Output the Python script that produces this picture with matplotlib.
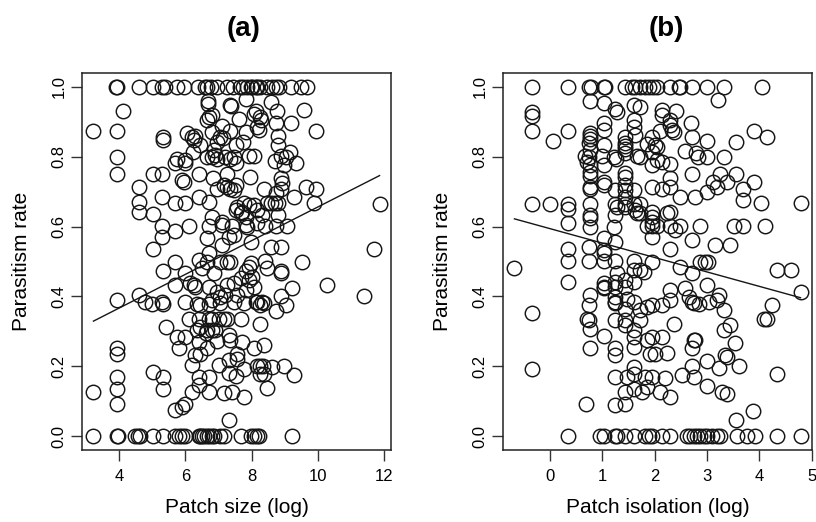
import matplotlib
matplotlib.use("Agg")
import matplotlib.pyplot as plt
from matplotlib import font_manager
import numpy as np

plt.rcParams['font.family'] = ['Liberation Sans', 'DejaVu Sans']

# ---------------- Panel (a): patch size ----------------
size_at_one = [3.91, 3.93, 4.60, 5.02, 5.29, 5.37, 5.75, 5.97, 6.37, 6.58, 6.66, 6.76, 6.96,
               7.26, 7.45, 7.64, 7.75, 7.85, 7.97, 8.02, 8.12, 8.17, 8.27, 8.48, 8.63, 8.73,
               8.83, 9.18, 9.48, 9.67]
size_at_zero = [3.22, 3.93, 3.95, 4.48, 4.56, 4.64, 5.02, 5.32, 5.70, 5.80, 5.90, 6.00, 6.40,
                6.45, 6.51, 6.56, 6.66, 6.71, 6.81, 6.86, 7.06, 7.16, 7.67, 7.97, 8.07, 8.17,
                8.22, 9.23]
size_mid = [
    6.69, 6.69, 7.84, 7.34, 7.38, 4.10, 6.71, 6.66, 6.81, 7.62, 8.07,
    3.22, 3.93, 5.31, 5.31, 6.05, 6.20, 6.30, 6.25, 6.43,
    7.11, 7.36, 6.81, 7.13, 7.06, 6.96, 7.82, 7.75, 7.52, 8.17,
    3.93, 5.75, 5.70, 6.00, 6.00, 6.22,
    6.66, 6.81, 6.91, 6.96, 6.86, 7.21, 7.36, 7.46, 7.52, 8.07, 7.92,
    3.93, 5.02, 5.29, 5.90, 5.95, 6.40,
    6.83, 6.96, 7.16, 7.26, 7.36, 7.46, 7.54, 7.26, 7.94,
    4.61, 5.29, 5.70, 6.00, 6.40, 6.71, 4.61, 4.61, 5.02,
    7.57, 7.52, 7.67, 7.77, 7.92, 8.07, 7.72, 8.17,
    6.81, 7.11, 7.82,
    5.29, 5.70, 6.10, 6.71, 7.11, 7.41, 7.82, 7.87, 8.17,
    5.29, 6.66, 7.31, 7.46, 5.02, 7.11, 7.97,
    8.60, 8.12, 8.27, 8.30, 8.78, 9.59, 8.73, 9.18, 9.94, 8.22,
    8.80, 8.80, 8.70, 8.88, 9.03, 9.16, 9.33, 8.98,
    8.37, 8.88, 8.93, 8.88, 9.64, 9.94, 9.28, 8.73,
    8.48, 8.58, 8.70, 8.80, 9.89, 8.32, 8.80, 11.87,
    8.42, 8.73, 9.08, 8.58, 8.88, 11.71,
    5.70, 5.31, 4.59, 3.93, 4.79, 4.99, 5.29, 5.32, 5.70, 6.00, 6.25, 6.00,
    6.40, 6.71, 6.66, 7.06, 7.36, 7.26, 6.86, 6.51,
    6.15, 6.30, 6.71, 6.96, 7.06, 7.21, 6.81, 7.06, 6.71, 6.35, 6.45,
    7.26, 7.46, 7.67, 7.92, 8.02, 8.07, 7.82, 7.57, 7.46, 7.77, 8.12,
    7.92, 7.82, 7.97,
    6.10, 6.40, 6.71, 6.81, 7.01, 7.16, 7.26, 7.67,
    5.42, 5.75, 6.00, 5.80,
    6.35, 6.45, 6.66, 6.81, 6.91, 6.61,
    6.96, 7.31, 7.36, 7.72,
    6.40, 6.66, 6.45, 6.30, 6.20,
    3.93, 3.93,
    7.57, 7.57, 7.77, 7.01, 7.31, 7.31, 7.52, 8.07, 8.17, 8.27,
    5.02, 5.32, 5.32,
    3.93, 3.93, 3.93, 3.22,
    6.40, 6.71, 6.40, 6.20, 6.71, 7.16, 7.41, 7.77,
    5.70, 5.90, 6.00, 7.31,
    9.53, 8.42, 8.48, 8.88, 8.90, 10.27, 11.40,
    9.23, 8.88, 9.03, 8.73, 8.32, 8.37, 8.27, 8.17,
    8.27, 8.37,
    8.98, 9.28, 8.63, 8.37, 8.25, 8.35, 8.48,
]
rate_mid_a = [
    0.960, 0.950, 0.965, 0.949, 0.946, 0.930, 0.915, 0.906, 0.920, 0.907, 0.923,
    0.875, 0.875, 0.858, 0.848, 0.869, 0.858, 0.860, 0.848, 0.834,
    0.888, 0.875, 0.872, 0.853, 0.858, 0.843, 0.872, 0.843, 0.834, 0.886,
    0.800, 0.793, 0.783, 0.791, 0.781, 0.815,
    0.800, 0.800, 0.805, 0.795, 0.820, 0.798, 0.793, 0.798, 0.781, 0.803, 0.803,
    0.751, 0.751, 0.751, 0.733, 0.729, 0.751,
    0.738, 0.709, 0.719, 0.714, 0.709, 0.705, 0.719, 0.751, 0.741,
    0.714, 0.684, 0.667, 0.667, 0.684, 0.671, 0.671, 0.643, 0.636,
    0.657, 0.647, 0.638, 0.667, 0.662, 0.662, 0.643, 0.647,
    0.628, 0.614, 0.628,
    0.601, 0.588, 0.601, 0.601, 0.604, 0.601, 0.604, 0.600, 0.609,
    0.571, 0.566, 0.571, 0.576, 0.537, 0.547, 0.556,
    0.958, 0.930, 0.915, 0.906, 0.930, 0.934, 0.898, 0.898, 0.875, 0.877,
    0.860, 0.834, 0.789, 0.803, 0.800, 0.815, 0.783, 0.776,
    0.707, 0.738, 0.724, 0.709, 0.714, 0.709, 0.686, 0.695,
    0.668, 0.668, 0.668, 0.668, 0.668, 0.633, 0.633, 0.666,
    0.601, 0.601, 0.601, 0.542, 0.542, 0.537,
    0.499, 0.474, 0.404, 0.390, 0.385, 0.378, 0.385, 0.378, 0.432, 0.466, 0.432, 0.385,
    0.504, 0.523, 0.499, 0.499, 0.499, 0.499, 0.468, 0.480,
    0.437, 0.428, 0.428, 0.413, 0.399, 0.404, 0.390, 0.382, 0.378, 0.378, 0.375,
    0.432, 0.437, 0.452, 0.447, 0.456, 0.428, 0.418, 0.404, 0.385, 0.380, 0.385,
    0.485, 0.474, 0.495,
    0.334, 0.334, 0.334, 0.334, 0.334, 0.334, 0.334, 0.334,
    0.311, 0.284, 0.284, 0.251,
    0.303, 0.313, 0.305, 0.305, 0.303, 0.294,
    0.273, 0.289, 0.275, 0.270,
    0.270, 0.251, 0.236, 0.232, 0.203,
    0.251, 0.236,
    0.236, 0.222, 0.193, 0.203, 0.217, 0.180, 0.171, 0.251, 0.200, 0.179,
    0.184, 0.170, 0.136,
    0.170, 0.134, 0.093, 0.126,
    0.169, 0.169, 0.145, 0.126, 0.126, 0.122, 0.126, 0.112,
    0.074, 0.083, 0.093, 0.045,
    0.499, 0.502, 0.480, 0.474, 0.466, 0.432, 0.401,
    0.423, 0.401, 0.375, 0.359, 0.385, 0.380, 0.375, 0.385,
    0.320, 0.260,
    0.200, 0.174, 0.198, 0.179, 0.200, 0.200, 0.139,
]
fit_a_intercept, fit_a_slope = 0.174, 0.0482

# ---------------- Panel (b): patch isolation ----------------
iso_at_one = [-0.35, 0.332, 0.734, 0.779, 1.022, 1.054, 1.437, 1.565, 1.63, 1.724, 1.82, 1.884,
              1.967, 2.043, 2.299, 2.458, 2.49, 2.714, 3.001, 3.333, 4.055]
iso_at_zero = [0.332, 0.958, 1.022, 1.245, 1.277, 1.437, 1.597, 1.82, 1.884, 1.948, 2.139, 2.299,
               2.618, 2.682, 2.746, 2.81, 2.873, 2.937, 3.001, 3.097, 3.193, 3.257, 3.576,
               3.768, 3.927, 4.342, 4.789]
iso_mid = [
    0.754, 1.035, 1.245, 1.277, -0.35, -0.35, -0.35, 0.332, 0.051,
    0.754, 0.754, 0.754, 0.734, 0.754,
    1.035, 1.035, 1.035, 1.437, 1.437, 1.437,
    1.597, 1.597, 1.63,
    0.67, 0.734, 0.70, 0.754, 0.754, 0.754, 0.767, 0.754,
    0.99, 1.022, 1.035, 1.035, 1.213, 1.264, 1.245,
    1.437, 1.437, 1.437, 1.437, 1.437, 1.437, 1.437, 1.437, 1.437,
    1.66, 1.597, 1.597, 1.63, 1.66,
    1.245, 1.277, 1.245, 1.213, 1.245,
    -0.35, 0.0, 0.332, 0.332, 0.332,
    0.754, 0.754, 0.754, 0.754,
    1.035, 1.022, 0.332, 0.734,
    -0.683, 0.332, 0.332, 0.734, 1.022, 1.035,
    1.245, 1.277, 1.245, 1.245, 1.245, 1.245, 1.245, 1.245,
    1.022, 1.035, 1.035,
    0.754, 0.734, 0.70, 0.734, 0.754, 0.767, 1.035,
    1.437, 1.437, 1.47, 1.437, 1.437, 1.437,
    1.597, 1.597, 1.597, 1.597, 1.597, 1.597, 1.597, 1.597, 1.597, 1.597,
    -0.35, -0.35,
    1.245, 1.245, 1.245, 1.245, 1.437, 1.47, 1.437, 0.69,
    3.206, 1.597, 1.724,
    2.139, 2.139, 2.414, 2.286, 2.299, 2.331, 2.363, 2.695, 3.908, 4.138, 2.107,
    1.852, 1.948, 2.011, 2.043, 1.724, 1.948, 1.948, 2.043, 2.139, 2.299,
    2.586, 2.797, 2.822, 3.001, 3.333, 3.001, 2.714, 3.563,
    2.714, 3.116, 3.257, 3.384, 3.563, 3.908, 3.193, 3.001, 3.691, 3.691, 4.023, 4.789,
    1.948, 2.139, 2.299, 2.286, 2.49, 2.778,
    1.724, 1.724, 1.948, 1.948, 1.948, 2.235, 2.286,
    1.852, 1.948, 2.043, 2.299, 2.395, 2.49, 2.873, 3.512, 3.691, 4.10,
    1.948, 2.714, 2.299, 3.161, 3.448,
    1.948, 1.724, 1.788,
    2.49, 2.714, 3.001, 2.586, 2.65, 2.714, 2.746, 2.842, 3.033, 3.193, 3.225, 3.321,
    2.861, 2.969, 3.014, 4.342, 4.598, 4.789, 4.247, 4.087, 4.151,
    2.286, 2.286, 2.139, 1.852, 1.948, 1.724, 1.724, 2.363,
    3.321, 3.448, 3.544, 2.746, 2.778, 2.714,
    1.852, 1.948, 2.139, 1.916, 2.011, 2.235,
    3.001, 3.353, 3.384, 3.608, 3.225,
    2.714, 2.522, 2.746, 1.82, 1.948, 2.203, 4.342,
    3.001, 3.289, 3.384, 1.852, 2.107, 2.299, 1.756,
    3.883, 3.563,
]
rate_mid_b = [
    0.961, 0.955, 0.936, 0.927, 0.927, 0.917, 0.875, 0.875, 0.846,
    0.869, 0.860, 0.850, 0.839, 0.820,
    0.898, 0.877, 0.834, 0.858, 0.840, 0.831,
    0.905, 0.886, 0.862,
    0.802, 0.798, 0.786, 0.776, 0.757, 0.745, 0.714, 0.709,
    0.802, 0.776, 0.729, 0.719, 0.798, 0.795, 0.705,
    0.821, 0.810, 0.753, 0.743, 0.719, 0.705, 0.686, 0.666, 0.657,
    0.802, 0.705, 0.666, 0.647, 0.638,
    0.666, 0.657, 0.633, 0.600, 0.556,
    0.666, 0.666, 0.666, 0.649, 0.609,
    0.666, 0.633, 0.626, 0.600,
    0.566, 0.533, 0.537, 0.542,
    0.480, 0.502, 0.442, 0.502, 0.523, 0.502,
    0.502, 0.466, 0.442, 0.428, 0.399, 0.385, 0.380, 0.332,
    0.437, 0.428, 0.423,
    0.404, 0.375, 0.334, 0.332, 0.308, 0.251, 0.286,
    0.447, 0.428, 0.394, 0.365, 0.332, 0.318,
    0.502, 0.475, 0.442, 0.385, 0.303, 0.284, 0.255, 0.198, 0.179, 0.136,
    0.353, 0.191,
    0.251, 0.232, 0.169, 0.088, 0.093, 0.169, 0.126, 0.093,
    0.963, 0.949, 0.944,
    0.934, 0.920, 0.930, 0.906, 0.891, 0.877, 0.872, 0.898, 0.875, 0.858, 0.875,
    0.837, 0.858, 0.834, 0.829, 0.800, 0.815, 0.776, 0.791, 0.786, 0.778,
    0.817, 0.810, 0.800, 0.798, 0.798, 0.846, 0.858, 0.843,
    0.751, 0.729, 0.751, 0.729, 0.751, 0.729, 0.712, 0.700, 0.707, 0.676, 0.667, 0.667,
    0.714, 0.709, 0.714, 0.738, 0.686, 0.684,
    0.666, 0.638, 0.643, 0.628, 0.614, 0.638, 0.643,
    0.601, 0.601, 0.601, 0.601, 0.590, 0.601, 0.601, 0.601, 0.601, 0.601,
    0.571, 0.563, 0.537, 0.547, 0.547,
    0.499, 0.475, 0.470,
    0.483, 0.466, 0.432, 0.423, 0.399, 0.385, 0.380, 0.378, 0.385, 0.390, 0.404, 0.361,
    0.499, 0.499, 0.499, 0.475, 0.477, 0.413, 0.375, 0.334, 0.334,
    0.418, 0.391, 0.375, 0.370, 0.375, 0.332, 0.361, 0.322,
    0.303, 0.318, 0.267, 0.276, 0.275, 0.251,
    0.275, 0.284, 0.284, 0.236, 0.236, 0.238,
    0.215, 0.232, 0.225, 0.200, 0.195,
    0.200, 0.174, 0.169, 0.169, 0.169, 0.167, 0.177,
    0.142, 0.126, 0.121, 0.141, 0.126, 0.112, 0.126,
    0.072, 0.045,
]
fit_b_intercept, fit_b_slope = 0.594, -0.0413

rate_ticks = [0.0, 0.2, 0.4, 0.6, 0.8, 1.0]
rate_tick_labels = ["0.0", "0.2", "0.4", "0.6", "0.8", "1.0"]
size_ticks = [4, 6, 8, 10, 12]
iso_ticks = [0, 1, 2, 3, 4, 5]

# condensed bold face for panel letters, if available
installed = {f.name for f in font_manager.fontManager.ttflist}
if 'Liberation Sans Narrow' in installed:
    title_kw = dict(family=['Liberation Sans Narrow', 'Liberation Sans'], fontsize=22)
else:
    title_kw = dict(family=['Liberation Sans', 'DejaVu Sans'], fontsize=20)


def panel(ax, x_one, x_zero, x_mid, y_mid, b0, b1, xticks, xlabel):
    x = np.array(x_one + x_zero + x_mid, dtype=float)
    y = np.array([1.0] * len(x_one) + [0.0] * len(x_zero) + y_mid, dtype=float)
    ax.plot(x, y, linestyle='none', marker='o', markersize=10.4,
            markerfacecolor='none', markeredgecolor='#151515', markeredgewidth=1.05)
    xs = np.array([x.min(), x.max()])
    ax.plot(xs, b0 + b1 * xs, color='#151515', lw=1.0)
    rng = x.max() - x.min()
    ax.set_xlim(x.min() - 0.04 * rng, x.max() + 0.04 * rng)
    ax.set_ylim(-0.04, 1.04)
    ax.set_xticks(xticks)
    ax.set_xticklabels([str(t) for t in xticks])
    ax.set_yticks(rate_ticks)
    ax.set_yticklabels(rate_tick_labels, rotation=90, va='center')
    ax.tick_params(direction='out', length=8, width=1.0, labelsize=12, color='#333333')
    ax.tick_params(axis='x', pad=6)
    ax.tick_params(axis='y', pad=3)
    for sp in ax.spines.values():
        sp.set_linewidth(1.1)
        sp.set_color('#222222')
    ax.set_xlabel(xlabel, fontsize=15)
    ax.set_ylabel("Parasitism rate", fontsize=15)
    ax.xaxis.set_label_coords(0.5, -0.128)
    ax.yaxis.set_label_coords(-0.165, 0.5)


fig = plt.figure(figsize=(8.16, 5.22), dpi=100)
ax_a = fig.add_axes([82 / 816, 1 - 450 / 522, 309 / 816, 377 / 522])
ax_b = fig.add_axes([503 / 816, 1 - 450 / 522, 309 / 816, 377 / 522])

panel(ax_a, size_at_one, size_at_zero, size_mid, rate_mid_a,
      fit_a_intercept, fit_a_slope, size_ticks, "Patch size (log)")
panel(ax_b, iso_at_one, iso_at_zero, iso_mid, rate_mid_b,
      fit_b_intercept, fit_b_slope, iso_ticks, "Patch isolation (log)")

fig.text(244 / 816, 1 - 29 / 522, "(a)", fontweight='bold',
         ha='center', va='center', **title_kw)
fig.text(666 / 816, 1 - 29 / 522, "(b)", fontweight='bold',
         ha='center', va='center', **title_kw)

fig.savefig("out.png", dpi=100)
